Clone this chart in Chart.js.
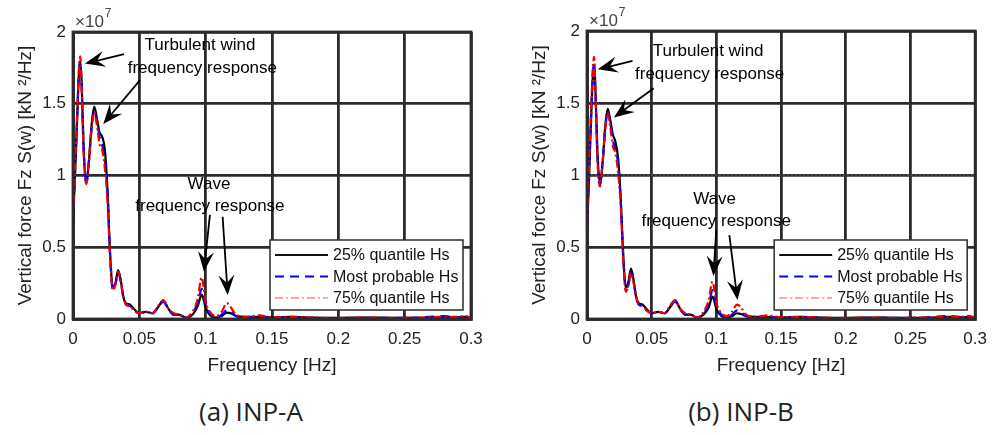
<!DOCTYPE html>
<html>
<head>
<meta charset="utf-8">
<script src="https://cdn.jsdelivr.net/npm/chart.js@4.4.1/dist/chart.umd.min.js"></script>
<style>
  html, body { margin: 0; padding: 0; background: #fff; }
  body { width: 997px; height: 435px; position: relative; overflow: hidden; }
  .panel { position: absolute; top: 0; height: 380px; }
  #panelA { left: 0; width: 500px; }
  #panelB { left: 500px; width: 497px; }
  .caption { position: absolute; top: 393px; font-family: "Open Sans", sans-serif; font-size: 26px; color: #222; white-space: nowrap; transform: translateX(-50%); }
</style>
</head>
<body>
<div class="panel" id="panelA"><canvas id="chartA"></canvas></div>
<div class="panel" id="panelB"><canvas id="chartB"></canvas></div>
<div class="caption" style="left:251px">(a) INP-A</div>
<div class="caption" style="left:741px">(b) INP-B</div>
<script>
// frequency samples [Hz] and spectra in units of 1e7 kN^2/Hz
const freqHz = [0, 0.0015, 0.003, 0.0045, 0.0055, 0.0065, 0.008, 0.010, 0.012, 0.014,
  0.016, 0.018, 0.020, 0.022, 0.024, 0.026, 0.028, 0.030, 0.032, 0.034,
  0.036, 0.038, 0.040, 0.043, 0.046, 0.050, 0.055, 0.060, 0.064, 0.068,
  0.072, 0.076, 0.080, 0.085, 0.090, 0.094, 0.097, 0.100, 0.104, 0.108,
  0.112, 0.116, 0.119, 0.123, 0.130, 0.140, 0.150, 0.165, 0.180, 0.200,
  0.220, 0.240, 0.260, 0.280, 0.290, 0.295, 0.300];

const inpA_q25 = [0.65, 1.00, 1.35, 1.72, 1.80, 1.65, 1.20, 0.95, 1.10, 1.35,
  1.48, 1.40, 1.30, 1.27, 1.18, 0.90, 0.45, 0.22, 0.25, 0.34,
  0.27, 0.15, 0.11, 0.10, 0.07, 0.04, 0.05, 0.04, 0.08, 0.13,
  0.07, 0.03, 0.03, 0.01, 0.03, 0.09, 0.17, 0.08, 0.02, 0.01,
  0.02, 0.045, 0.04, 0.02, 0.015, 0.015, 0.01, 0.015, 0.01, 0.008,
  0.01, 0.008, 0.008, 0.015, 0.012, 0.015, 0.005];
const inpA_mostProb = [0.68, 1.02, 1.38, 1.72, 1.79, 1.62, 1.18, 0.94, 1.10, 1.33,
  1.45, 1.38, 1.27, 1.21, 1.12, 0.88, 0.44, 0.21, 0.24, 0.33,
  0.26, 0.15, 0.10, 0.09, 0.06, 0.04, 0.05, 0.04, 0.08, 0.12,
  0.07, 0.03, 0.03, 0.01, 0.04, 0.11, 0.21, 0.10, 0.03, 0.01,
  0.03, 0.06, 0.05, 0.02, 0.012, 0.015, 0.01, 0.012, 0.008, 0.006,
  0.008, 0.008, 0.01, 0.02, 0.012, 0.015, 0.005];
const inpA_q75 = [0.70, 1.05, 1.40, 1.75, 1.83, 1.62, 1.16, 0.94, 1.10, 1.32,
  1.44, 1.35, 1.22, 1.18, 1.05, 0.82, 0.42, 0.20, 0.24, 0.33,
  0.26, 0.16, 0.10, 0.09, 0.06, 0.04, 0.05, 0.04, 0.09, 0.13,
  0.07, 0.04, 0.03, 0.01, 0.05, 0.14, 0.29, 0.12, 0.04, 0.02,
  0.05, 0.11, 0.08, 0.03, 0.015, 0.025, 0.012, 0.015, 0.01, 0.008,
  0.01, 0.008, 0.01, 0.015, 0.015, 0.022, 0.008];

const inpB_q25 = [0.62, 0.95, 1.35, 1.68, 1.76, 1.60, 1.18, 0.93, 1.08, 1.33,
  1.46, 1.38, 1.28, 1.23, 1.12, 0.85, 0.45, 0.22, 0.26, 0.35,
  0.27, 0.15, 0.11, 0.10, 0.07, 0.04, 0.05, 0.04, 0.08, 0.13,
  0.07, 0.03, 0.03, 0.01, 0.03, 0.08, 0.155, 0.07, 0.02, 0.01,
  0.02, 0.04, 0.035, 0.02, 0.015, 0.015, 0.01, 0.015, 0.01, 0.008,
  0.01, 0.008, 0.008, 0.015, 0.012, 0.015, 0.005];
const inpB_mostProb = [0.65, 1.00, 1.38, 1.70, 1.78, 1.58, 1.15, 0.93, 1.08, 1.31,
  1.44, 1.36, 1.24, 1.18, 1.08, 0.83, 0.43, 0.21, 0.24, 0.33,
  0.26, 0.15, 0.10, 0.09, 0.06, 0.04, 0.05, 0.04, 0.08, 0.12,
  0.07, 0.03, 0.03, 0.01, 0.04, 0.10, 0.20, 0.09, 0.03, 0.01,
  0.03, 0.06, 0.05, 0.02, 0.012, 0.015, 0.01, 0.012, 0.008, 0.006,
  0.008, 0.008, 0.01, 0.02, 0.012, 0.015, 0.005];
const inpB_q75 = [0.68, 1.05, 1.42, 1.74, 1.82, 1.58, 1.12, 0.92, 1.08, 1.30,
  1.43, 1.33, 1.20, 1.15, 1.02, 0.80, 0.41, 0.19, 0.23, 0.32,
  0.25, 0.16, 0.10, 0.09, 0.06, 0.04, 0.05, 0.04, 0.09, 0.13,
  0.07, 0.04, 0.03, 0.01, 0.05, 0.13, 0.26, 0.11, 0.04, 0.02,
  0.05, 0.10, 0.08, 0.03, 0.015, 0.025, 0.012, 0.015, 0.01, 0.008,
  0.01, 0.008, 0.01, 0.015, 0.015, 0.022, 0.008];

const seriesNames = ["25% quantile Hs", "Most probable Hs", "75% quantile Hs"];
const refLevelB = 1.0;           // dotted level line seen in INP-B
const refSpanB = [0.003, 0.3];

const FONT = "'Liberation Sans', Arial, sans-serif";
const INK = "#2b2b2b";

const styles = [
  { color: "#000000", dash: [], width: 2.2, order: 2, legendColor: "#111", legendWidth: 2 },
  { color: "#0000ff", dash: [9, 6], width: 2.2, order: 1, legendColor: "#0000ff", legendWidth: 2 },
  { color: "#ee0000", dash: [8, 3, 2, 3], width: 2.2, order: 0, legendColor: "#ff8a8a", legendWidth: 1.5 }
];

function pts(vals) { return freqHz.map((f, i) => ({ x: f, y: vals[i] })); }

function drawArrow(ctx, x0, y0, x1, y1) {
  const a = Math.atan2(y1 - y0, x1 - x0);
  const len = 20, half = 8;
  ctx.beginPath();
  ctx.moveTo(x0, y0);
  ctx.lineTo(x1 - Math.cos(a) * len * 0.6, y1 - Math.sin(a) * len * 0.6);
  ctx.stroke();
  const bx = x1 - Math.cos(a) * len, by = y1 - Math.sin(a) * len;
  const nx = -Math.sin(a), ny = Math.cos(a);
  ctx.beginPath();
  ctx.moveTo(x1, y1);
  ctx.lineTo(bx + nx * half, by + ny * half);
  ctx.lineTo(x1 - Math.cos(a) * len * 0.62, y1 - Math.sin(a) * len * 0.62);
  ctx.lineTo(bx - nx * half, by - ny * half);
  ctx.closePath();
  ctx.fill();
}

const decorations = {
  id: "decorations",
  afterDatasetsDraw(chart, args, opts) {
    const { ctx, chartArea: ca, scales: { x, y } } = chart;
    ctx.save();
    // frame
    ctx.strokeStyle = INK;
    ctx.lineWidth = 2.8;
    ctx.strokeRect(ca.left, ca.top, ca.right - ca.left, ca.bottom - ca.top);

    // exponent label
    ctx.fillStyle = "#444";
    ctx.textBaseline = "middle";
    ctx.textAlign = "left";
    ctx.font = "17px " + FONT;
    ctx.fillText("\u00d710", ca.left + 2, ca.top - 10);
    const w = ctx.measureText("\u00d710").width;
    ctx.font = "12px " + FONT;
    ctx.fillText("7", ca.left + 3 + w, ca.top - 18);

    // annotations
    ctx.fillStyle = "#000";
    ctx.strokeStyle = "#000";
    ctx.lineWidth = 1.8;
    ctx.font = "17px " + FONT;
    ctx.textAlign = "center";
    opts.texts.forEach(t => ctx.fillText(t.t, x.getPixelForValue(t.x), y.getPixelForValue(t.y)));
    opts.arrows.forEach(a => drawArrow(ctx,
      x.getPixelForValue(a.from[0]), y.getPixelForValue(a.from[1]),
      x.getPixelForValue(a.to[0]), y.getPixelForValue(a.to[1])));

    // legend box
    const bw = 193, bh = 70;
    const lx = ca.right - 8 - bw, ly = ca.bottom - 9 - bh;
    ctx.fillStyle = "#fff";
    ctx.fillRect(lx, ly, bw, bh);
    ctx.strokeStyle = INK;
    ctx.lineWidth = 1.5;
    ctx.strokeRect(lx, ly, bw, bh);
    ctx.textAlign = "left";
    ctx.font = "16px " + FONT;
    seriesNames.forEach((name, i) => {
      const s = styles[i];
      const ry = ly + 15 + i * 21.5;
      ctx.strokeStyle = s.legendColor;
      ctx.lineWidth = s.legendWidth;
      ctx.setLineDash(s.dash);
      ctx.beginPath();
      ctx.moveTo(lx + 5, ry);
      ctx.lineTo(lx + 58, ry);
      ctx.stroke();
      ctx.setLineDash([]);
      ctx.fillStyle = "#111";
      ctx.fillText(name, lx + 63, ry + 1);
    });
    ctx.restore();
  }
};

function makeChart(id, series, cfg) {
  const datasets = series.map((vals, i) => ({
    label: seriesNames[i],
    data: pts(vals),
    borderColor: styles[i].color,
    borderDash: styles[i].dash,
    borderWidth: styles[i].width,
    order: styles[i].order,
    pointRadius: 0,
    fill: false,
    cubicInterpolationMode: "monotone"
  }));
  if (cfg.ref) {
    datasets.push({
      label: "ref",
      data: cfg.ref.span.map(f => ({ x: f, y: cfg.ref.level })),
      borderColor: "#555",
      borderDash: [2, 2],
      borderWidth: 1.5,
      pointRadius: 0,
      order: 3
    });
  }
  return new Chart(document.getElementById(id), {
    type: "line",
    data: { datasets },
    options: {
      responsive: true,
      maintainAspectRatio: false,
      animation: false,
      layout: { padding: { left: 0, top: cfg.top, right: cfg.right, bottom: 0 } },
      plugins: {
        legend: { display: false },
        tooltip: { enabled: false },
        decorations: cfg.notes
      },
      scales: {
        x: {
          type: "linear",
          min: 0, max: 0.3,
          afterFit: s => { s.height = 61; },
          ticks: {
            stepSize: 0.05, color: "#222", padding: 10,
            font: { size: 17, family: FONT },
            callback: v => String(+v.toFixed(2))
          },
          grid: { color: INK, lineWidth: 2.8, drawTicks: false },
          border: { display: true, color: INK, width: 2.8 },
          title: { display: true, text: "Frequency [Hz]", color: "#222", font: { size: 19, family: FONT }, padding: { top: 0, bottom: 3 } }
        },
        y: {
          min: 0, max: 2,
          afterFit: s => { s.width = cfg.axisW; },
          ticks: {
            stepSize: 0.5, color: "#222", padding: 7,
            font: { size: 17, family: FONT },
            callback: v => String(+v.toFixed(1))
          },
          grid: { color: INK, lineWidth: 2.8, drawTicks: false },
          border: { display: true, color: INK, width: 2.8 },
          title: { display: true, text: "Vertical force Fz S(w) [kN \u00b2/Hz]", color: "#222", font: { size: 19, family: FONT }, padding: { top: cfg.titlePad, bottom: 0 } }
        }
      }
    },
    plugins: [decorations]
  });
}

makeChart("chartA", [inpA_q25, inpA_mostProb, inpA_q75], {
  top: 32, right: 29, axisW: 73, titlePad: 14,
  notes: {
    texts: [
      { t: "Turbulent wind", x: 0.0957, y: 1.91 },
      { t: "frequency response", x: 0.0975, y: 1.75 },
      { t: "Wave", x: 0.1025, y: 0.94 },
      { t: "frequency response", x: 0.1032, y: 0.787 }
    ],
    arrows: [
      { from: [0.0384, 1.845], to: [0.009, 1.78] },
      { from: [0.0505, 1.665], to: [0.0228, 1.359] },
      { from: [0.1032, 0.725], to: [0.0987, 0.33] },
      { from: [0.1128, 0.713], to: [0.1166, 0.167] }
    ]
  }
});

makeChart("chartB", [inpB_q25, inpB_mostProb, inpB_q75], {
  top: 31, right: 13, axisW: 87, titlePad: 28,
  ref: { level: refLevelB, span: refSpanB },
  notes: {
    texts: [
      { t: "Turbulent wind", x: 0.0936, y: 1.856 },
      { t: "frequency response", x: 0.0948, y: 1.70 },
      { t: "Wave", x: 0.0986, y: 0.831 },
      { t: "frequency response", x: 0.0999, y: 0.676 }
    ],
    arrows: [
      { from: [0.0352, 1.792], to: [0.0083, 1.734] },
      { from: [0.0516, 1.602], to: [0.0208, 1.40] },
      { from: [0.0999, 0.618], to: [0.0977, 0.299] },
      { from: [0.110, 0.583], to: [0.1163, 0.132] }
    ]
  }
});
</script>
</body>
</html>
